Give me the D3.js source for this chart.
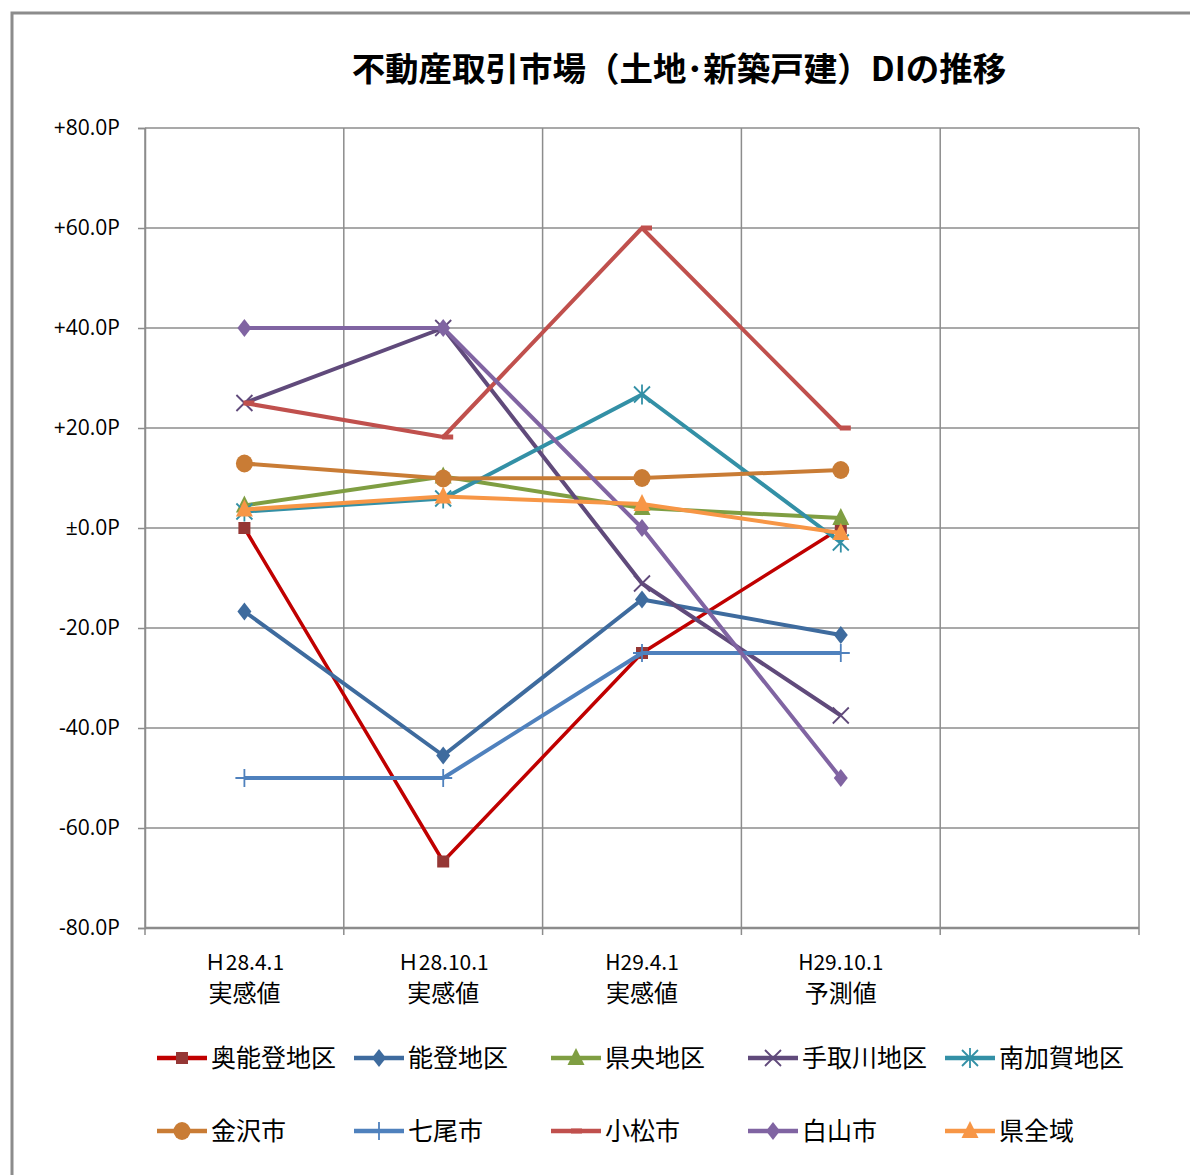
<!DOCTYPE html>
<html><head><meta charset="utf-8">
<script src="https://cdn.jsdelivr.net/npm/d3@7"></script>
<style>body{margin:0;background:#fff}svg{display:block}</style>
</head><body>
<svg id="c" width="1190" height="1175"></svg>
<script>
// ---- data ----
const title = "不動産取引市場（土地･新築戸建）DIの推移";
const categoryDates = ["Ｈ28.4.1", "Ｈ28.10.1", "H29.4.1", "H29.10.1", ""];
const categoryKinds = ["実感値", "実感値", "実感値", "予測値", ""];
const yTicks = [80, 60, 40, 20, 0, -20, -40, -60, -80];
const yTickLabels = ["+80.0P", "+60.0P", "+40.0P", "+20.0P", "±0.0P", "-20.0P", "-40.0P", "-60.0P", "-80.0P"];
const seriesNames = ["奥能登地区", "能登地区", "県央地区", "手取川地区", "南加賀地区", "金沢市", "七尾市", "小松市", "白山市", "県全域"];
const okunoto = [0, -66.7, -25, 0];
const noto = [-16.7, -45.5, -14.3, -21.4];
const kenou = [4.5, 10.3, 4.0, 2.0];
const tedorigawa = [25, 40, -11.1, -37.5];
const minamikaga = [3.3, 5.9, 26.7, -2.9];
const kanazawa = [12.9, 9.9, 10.0, 11.6];
const nanao = [-50, -50, -25, -25];
const komatsu = [25, 18.2, 60, 20];
const hakusan = [40, 40, 0, -50];
const kenzeniki = [3.7, 6.3, 4.8, -1.0];
const seriesValues = [okunoto, noto, kenou, tedorigawa, minamikaga, kanazawa, nanao, komatsu, hakusan, kenzeniki];

// ---- styles ----
const lineColors = ["#C00000", "#3E6B9E", "#7F9E42", "#604A7B", "#3390A6", "#C97C35", "#4F81BD", "#C0504D", "#8064A2", "#F79646"];
const markerColors = ["#953735", "#3E6B9E", "#7F9E42", "#604A7B", "#3390A6", "#C97C35", "#4F81BD", "#C0504D", "#8064A2", "#F79646"];
const markerTypes = ["square", "diamond", "triangle", "x", "star", "circle", "plus", "dash", "diamond", "triangle"];
const lineWidths = [3.5, 4, 4, 4, 4, 4, 4, 4, 4, 4];

const svg = d3.select("#c");
const W = 1190, H = 1175;
const plot = {left: 145, right: 1139, top: 128, bottom: 928};
const grid = "#8C8C8C";
const jp = "'Noto Sans CJK JP', sans-serif";

// frame
svg.append("path").attr("d", `M12,${H} L12,13 L${W},13`).attr("fill", "none").attr("stroke", "#8C8C8C").attr("stroke-width", 3);

// title
svg.append("text").attr("x", 679).attr("y", 81).attr("text-anchor", "middle")
  .attr("font-family", jp).attr("font-weight", "bold")
  .attr("font-size", 33.5).attr("fill", "#000").text(title);

const x = d3.scaleBand().domain(d3.range(categoryDates.length)).range([plot.left, plot.right]).paddingInner(0).paddingOuter(0);
const y = d3.scaleLinear().domain([-80, 80]).range([plot.bottom, plot.top]);

// gridlines horizontal
svg.append("g").selectAll("line").data(yTicks).join("line")
  .attr("x1", plot.left).attr("x2", plot.right)
  .attr("y1", d => y(d)).attr("y2", d => y(d))
  .attr("stroke", grid).attr("stroke-width", 1.5);
// vertical gridlines at band boundaries
const bounds = d3.range(categoryDates.length + 1).map(i => plot.left + i * x.bandwidth());
svg.append("g").selectAll("line").data(bounds).join("line")
  .attr("x1", d => d).attr("x2", d => d)
  .attr("y1", plot.top).attr("y2", plot.bottom)
  .attr("stroke", grid).attr("stroke-width", 1.5);

// y axis
const yAxis = d3.axisLeft(y).tickValues(yTicks).tickSize(7).tickPadding(18)
  .tickFormat((d, i) => yTickLabels[i]);
const gy = svg.append("g").attr("transform", `translate(${plot.left},0)`).call(yAxis);
gy.select(".domain").attr("stroke", grid).attr("stroke-width", 1.5);
gy.selectAll(".tick line").attr("stroke", grid).attr("stroke-width", 1.5);
gy.selectAll(".tick text").attr("font-family", "'Open Sans', Lato, sans-serif").attr("font-size", 21).attr("fill", "#000");

// x axis
const gx = svg.append("g").attr("transform", `translate(0,${plot.bottom})`);
gx.append("line").attr("x1", plot.left).attr("x2", plot.right).attr("stroke", grid).attr("stroke-width", 2.5);
gx.selectAll("line.tk").data(bounds).join("line").attr("class", "tk")
  .attr("x1", d => d).attr("x2", d => d).attr("y1", 0).attr("y2", 7)
  .attr("stroke", grid).attr("stroke-width", 1.5);
const xl = gx.selectAll("g.lab").data(d3.range(categoryDates.length)).join("g").attr("class", "lab")
  .attr("transform", i => `translate(${x(i) + x.bandwidth() / 2},0)`);
xl.append("text").attr("y", 42).attr("text-anchor", "middle")
  .attr("font-family", jp).attr("font-size", 21).attr("fill", "#000")
  .text(i => categoryDates[i]);
xl.append("text").attr("y", 74).attr("text-anchor", "middle")
  .attr("font-family", jp).attr("font-size", 24).attr("fill", "#000")
  .text(i => categoryKinds[i]);

// markers
function drawMarker(g, type, color, cx, cy, legend) {
  if (type === "square") {
    g.append("rect").attr("x", cx - 6).attr("y", cy - 6).attr("width", 12).attr("height", 12).attr("fill", color);
  } else if (type === "diamond") {
    g.append("path").attr("d", `M${cx},${cy - 9}L${cx + 7},${cy}L${cx},${cy + 9}L${cx - 7},${cy}Z`).attr("fill", color);
  } else if (type === "triangle") {
    g.append("path").attr("d", `M${cx},${cy - 10}L${cx + 8.5},${cy + 7}L${cx - 8.5},${cy + 7}Z`).attr("fill", color);
  } else if (type === "circle") {
    g.append("ellipse").attr("cx", cx).attr("cy", cy).attr("rx", 8.5).attr("ry", 9).attr("fill", color);
  } else if (type === "x") {
    g.append("path").attr("d", `M${cx - 8},${cy - 8}L${cx + 8},${cy + 8}M${cx - 8},${cy + 8}L${cx + 8},${cy - 8}`)
      .attr("stroke", color).attr("stroke-width", 1.8).attr("fill", "none");
  } else if (type === "star") {
    g.append("path").attr("d", `M${cx - 8},${cy - 8}L${cx + 8},${cy + 8}M${cx - 8},${cy + 8}L${cx + 8},${cy - 8}M${cx},${cy - 10}L${cx},${cy + 10}`)
      .attr("stroke", color).attr("stroke-width", 1.8).attr("fill", "none");
  } else if (type === "plus") {
    g.append("path").attr("d", `M${cx - 9},${cy}L${cx + 9},${cy}M${cx},${cy - 9}L${cx},${cy + 9}`)
      .attr("stroke", color).attr("stroke-width", 1.8).attr("fill", "none");
  } else if (type === "dash") {
    g.append("rect").attr("x", legend ? cx - 5 : cx - 1).attr("y", cy - 2.5).attr("width", 11).attr("height", 5).attr("fill", color);
  }
}

const line = d3.line().x((d, i) => x(i) + x.bandwidth() / 2).y(d => y(d));
seriesValues.forEach((vals, si) => {
  const g = svg.append("g");
  g.append("path").datum(vals).attr("d", line).attr("fill", "none")
    .attr("stroke", lineColors[si]).attr("stroke-width", lineWidths[si]).attr("stroke-linejoin", "round");
  vals.forEach((v, i) => drawMarker(g, markerTypes[si], markerColors[si], x(i) + x.bandwidth() / 2, y(v), false));
});

// legend
const legX = [157, 354, 551, 748, 945];
const legY = [1058, 1131];
seriesNames.forEach((name, si) => {
  const lx = legX[si % 5], ly = legY[Math.floor(si / 5)];
  const g = svg.append("g");
  g.append("line").attr("x1", lx).attr("x2", lx + 50).attr("y1", ly).attr("y2", ly)
    .attr("stroke", lineColors[si]).attr("stroke-width", 4.5);
  drawMarker(g, markerTypes[si], markerColors[si], lx + 25, ly, true);
  g.append("text").attr("x", lx + 54).attr("y", ly + 9)
    .attr("font-family", jp).attr("font-size", 25).attr("fill", "#000").text(name);
});
</script>
</body></html>
